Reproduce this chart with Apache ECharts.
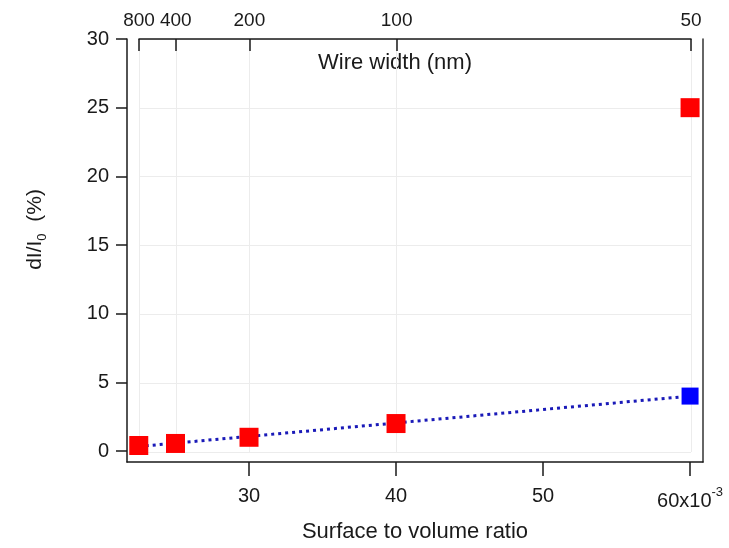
<!DOCTYPE html>
<html><head><meta charset="utf-8">
<script src="https://cdn.jsdelivr.net/npm/echarts@6/dist/echarts.min.js"></script>
<style>html,body{margin:0;padding:0;background:#fff}#c{width:729px;height:548px}</style>
</head><body><div id="c"></div>
<script>
// Data
const ratioX = [22.5, 25, 30, 40, 60];          // surface to volume ratio (x10^-3)
const redY = [0.4, 0.55, 1.0, 2.0, 25.0];        // dI/I0 (%)
const blueX = [60];
const blueY = [4.0];
const fitX = [22.5, 60];
const fitY = [0.33, 4.0];
const wireTickPos = [22.5, 25, 30, 40, 60];
const wireTickLabels = ['800', '400', '200', '100', '50'];
const bottomTicks = [30, 40, 50, 60];
const leftTicks = [0, 5, 10, 15, 20, 25, 30];

const FONT = 'Liberation Sans, Arial, sans-serif';
const INK = '#1a1a1a';
const chart = echarts.init(document.getElementById('c'));
chart.setOption({
  backgroundColor: '#fff',
  animation: false,
  grid: [
    {left: 127, right: 26, top: 39, bottom: 84},
    {left: 139, right: 38, top: 39, bottom: 96}
  ],
  xAxis: [
    {
      type: 'value', gridIndex: 0, min: 21.7, max: 60.88, position: 'bottom',
      name: 'Surface to volume ratio', nameLocation: 'middle', nameGap: 59,
      nameTextStyle: {fontFamily: FONT, fontSize: 22, color: INK},
      axisLine: {show: true, onZero: false, lineStyle: {color: INK, width: 1.5}},
      axisTick: {show: true, length: 14, lineStyle: {color: INK, width: 1.5}, customValues: bottomTicks},
      axisLabel: {
        fontFamily: FONT, fontSize: 20, color: INK, margin: 24, customValues: bottomTicks,
        formatter: v => v === 60 ? '60x10{sup|-3}' : String(v),
        rich: {sup: {fontFamily: FONT, fontSize: 13, color: INK, verticalAlign: 'top', padding: [0, 0, 18, 0]}}
      },
      splitLine: {show: false}
    },
    {
      type: 'value', gridIndex: 1, min: 22.5, max: 60, position: 'top',
      axisLine: {show: true, onZero: false, lineStyle: {color: INK, width: 1.5}},
      axisTick: {show: true, inside: true, length: 12, lineStyle: {color: INK, width: 1.5}, customValues: wireTickPos},
      axisLabel: {
        fontFamily: FONT, fontSize: 19, color: INK, margin: 9, customValues: wireTickPos,
        formatter: v => { const i = wireTickPos.indexOf(v); return i >= 0 ? wireTickLabels[i] : ''; }
      },
      splitLine: {show: true, lineStyle: {color: '#ececec', width: 1}}
    }
  ],
  yAxis: [
    {
      type: 'value', gridIndex: 0, min: -0.8, max: 30, position: 'left',
      name: 'dI/I{sub|0}  (%)', nameLocation: 'middle', nameGap: 78,
      nameTextStyle: {fontFamily: FONT, fontSize: 21, color: INK, padding: [0, 0, 0, 42],
        rich: {sub: {fontFamily: FONT, fontSize: 13, color: INK, verticalAlign: 'bottom', padding: [14, 0, 0, 0]}}},
      axisLine: {show: true, onZero: false, lineStyle: {color: INK, width: 1.5}},
      axisTick: {show: true, length: 11, lineStyle: {color: INK, width: 1.5}, customValues: leftTicks},
      axisLabel: {fontFamily: FONT, fontSize: 20, color: INK, margin: 18, customValues: leftTicks},
      splitLine: {show: false}
    },
    {
      type: 'value', gridIndex: 0, min: -0.8, max: 30, position: 'right',
      axisLine: {show: true, onZero: false, lineStyle: {color: '#333', width: 1.5}},
      axisTick: {show: false}, axisLabel: {show: false}, splitLine: {show: false}
    },
    {
      type: 'value', gridIndex: 1, min: 0, max: 30, interval: 5,
      axisLine: {show: false}, axisTick: {show: false}, axisLabel: {show: false},
      splitLine: {show: true, lineStyle: {color: '#ececec', width: 1}}
    }
  ],
  graphic: [{
    type: 'text', left: 318, top: 52,
    style: {text: 'Wire width (nm)', fontFamily: FONT, fontSize: 22, fill: INK}
  }],
  series: [
    {
      type: 'line', xAxisIndex: 0, yAxisIndex: 0, showSymbol: false, silent: true,
      data: fitX.map((x, i) => [x, fitY[i]]),
      lineStyle: {color: '#1a1ab8', width: 3, type: [3, 4]}, z: 2
    },
    {
      type: 'scatter', xAxisIndex: 0, yAxisIndex: 0, symbol: 'rect', symbolSize: 19,
      data: ratioX.map((x, i) => [x, redY[i]]),
      itemStyle: {color: '#ff0000', opacity: 1}, z: 3
    },
    {
      type: 'scatter', xAxisIndex: 0, yAxisIndex: 0, symbol: 'rect', symbolSize: 17,
      data: blueX.map((x, i) => [x, blueY[i]]),
      itemStyle: {color: '#0000ff', opacity: 1}, z: 3
    }
  ]
});
</script></body></html>
